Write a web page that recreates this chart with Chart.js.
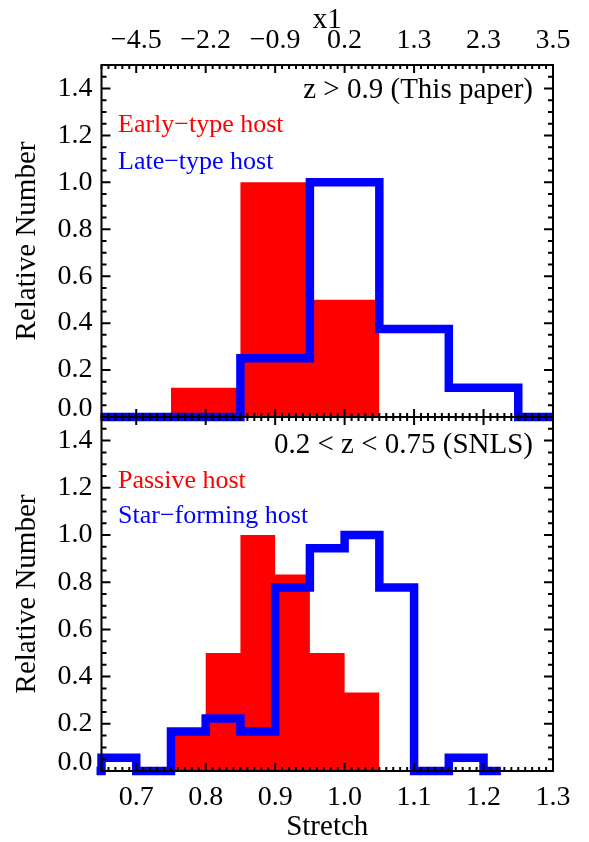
<!DOCTYPE html>
<html>
<head>
<meta charset="utf-8">
<script src="https://cdn.jsdelivr.net/npm/chart.js@4.4.1/dist/chart.umd.min.js"></script>
<style>
  html, body { margin: 0; padding: 0; background: #fff; overflow: hidden; }
  #wrap { position: relative; width: 589px; height: 842px; }
  canvas { position: absolute; left: 0; }
  .note { position: absolute; font-family: 'Liberation Serif', serif; font-size: 26px; line-height: 26px; white-space: nowrap; }
  .note.big { font-size: 29px; line-height: 29px; }
</style>
</head>
<body>
<div id="wrap">
  <canvas id="topChart" width="589" height="443" style="top:0"></canvas>
  <canvas id="bottomChart" width="589" height="451" style="top:391px"></canvas>
  <div class="note big" style="right:56px;top:74px;color:#000">z &gt; 0.9 (This paper)</div>
  <div class="note" style="left:118px;top:111px;color:#ff0000">Early&minus;type host</div>
  <div class="note" style="left:118px;top:148px;color:#0000ff">Late&minus;type host</div>
  <div class="note big" style="right:56px;top:429px;color:#000">0.2 &lt; z &lt; 0.75 (SNLS)</div>
  <div class="note" style="left:118px;top:467px;color:#ff0000">Passive host</div>
  <div class="note" style="left:118px;top:502px;color:#0000ff">Star&minus;forming host</div>
</div>
<script>
// axis labels
const stretchTicks = [0.7, 0.8, 0.9, 1.0, 1.1, 1.2, 1.3];
const x1Labels = ['\u22124.5', '\u22122.2', '\u22120.9', '0.2', '1.3', '2.3', '3.5'];
const yTicks = [0.0, 0.2, 0.4, 0.6, 0.8, 1.0, 1.2, 1.4];

// z > 0.9 (bins of 0.1)
const earlyEdges = [0.75, 0.85, 0.95, 1.05];
const earlyValues = [0.125, 1.0, 0.5];
const lateEdges = [0.65, 0.75, 0.85, 0.95, 1.05, 1.15, 1.25, 1.30];
const lateValues = [0, 0, 0.25, 1.0, 0.375, 0.125, 0];

// SNLS (bins of 0.05)
const passiveEdges = [0.75, 0.80, 0.85, 0.90, 0.95, 1.00, 1.05];
const passiveValues = [0.167, 0.5, 1.0, 0.833, 0.5, 0.333];
const starEdges = [0.625, 0.65, 0.70, 0.75, 0.80, 0.85, 0.90, 0.95, 1.00, 1.05, 1.10, 1.15, 1.20, 1.225];
const starValues = [0, 0.056, 0, 0.167, 0.222, 0.167, 0.778, 0.944, 1.0, 0.778, 0, 0.056, 0];

const RED = '#ff0000';
const BLUE = '#0000ff';
const tickFont = { family: "'Liberation Serif', serif", size: 28 };
const titleFont = { family: "'Liberation Serif', serif", size: 29 };

// left edge + value pairs, last edge closes the last bin
function steps(edges, values) {
  return edges.map((x, i) => ({ x: x, y: values[Math.min(i, values.length - 1)] }));
}

function filledHist(edges, values) {
  return {
    data: steps(edges, values),
    stepped: 'before',
    fill: 'origin',
    backgroundColor: RED,
    borderColor: 'rgba(0,0,0,0)',
    borderWidth: 0,
    pointRadius: 0,
    order: 1
  };
}

function outlineHist(edges, values) {
  return {
    data: steps(edges, values),
    stepped: 'before',
    fill: false,
    borderColor: BLUE,
    borderWidth: 8.5,
    borderJoinStyle: 'miter',
    borderCapStyle: 'butt',
    pointRadius: 0,
    clip: { left: 5, top: 5, right: 0, bottom: 6 },
    order: 0
  };
}

// inward ticks on all four sides + box
const frameTicks = {
  id: 'frameTicks',
  afterDatasetsDraw(chart) {
    const { ctx, chartArea: a, scales } = chart;
    const xs = scales.x, ys = scales.y;
    ctx.save();
    ctx.strokeStyle = '#000';
    ctx.lineWidth = 2;
    ctx.beginPath();
    for (let i = 65; i <= 130; i++) {
      const px = xs.getPixelForValue(i / 100);
      const len = i % 10 === 0 ? 8 : 4;
      ctx.moveTo(px, a.bottom); ctx.lineTo(px, a.bottom - len);
      ctx.moveTo(px, a.top); ctx.lineTo(px, a.top + len);
    }
    for (let j = 0; j <= 30; j++) {
      const py = ys.getPixelForValue(j / 20);
      const len = j % 4 === 0 ? 9 : 5;
      ctx.moveTo(a.left, py); ctx.lineTo(a.left + len, py);
      ctx.moveTo(a.right, py); ctx.lineTo(a.right - len, py);
    }
    ctx.stroke();
    ctx.strokeRect(a.left, a.top, a.right - a.left, a.bottom - a.top);
    ctx.restore();
  }
};

// IDL lifts the 0.0 label a little off the x axis
const liftZero = {
  id: 'liftZero',
  beforeDraw(chart) {
    const items = chart.scales.y.getLabelItems();
    items.forEach(it => {
      if (it.label === '0.0' && !it._lifted) {
        it.options.translation[1] -= 8;
        it._lifted = true;
      }
    });
  }
};

function yScale() {
  return {
    min: 0, max: 1.5,
    afterBuildTicks: s => { s.ticks = yTicks.map(v => ({ value: v })); },
    afterFit: s => { s.width = 101.5; },
    grid: { display: false, drawTicks: false },
    border: { display: false },
    ticks: { font: tickFont, color: '#000', padding: 9, callback: v => v.toFixed(1) },
    title: { display: true, text: 'Relative Number', font: titleFont, color: '#000', padding: { top: 10, bottom: 0 } }
  };
}

const common = {
  responsive: false,
  animation: false,
  devicePixelRatio: 1,
  plugins: { legend: { display: false }, tooltip: { enabled: false } },
  elements: { line: { tension: 0 } }
};

new Chart(document.getElementById('topChart'), {
  type: 'line',
  data: {
    datasets: [outlineHist(lateEdges, lateValues), filledHist(earlyEdges, earlyValues)]
  },
  options: Object.assign({}, common, {
    layout: { padding: { left: 0, right: 36, top: 0, bottom: 26 } },
    scales: {
      x: { type: 'linear', min: 0.65, max: 1.3, display: false },
      xTop: {
        type: 'linear', axis: 'x', position: 'top', min: 0.65, max: 1.3,
        afterBuildTicks: s => { s.ticks = stretchTicks.map(v => ({ value: v })); },
        afterFit: s => { s.height = 65; },
        grid: { display: false, drawTicks: false },
        border: { display: false },
        ticks: { font: tickFont, color: '#000', padding: 8, maxRotation: 0, autoSkip: false,
                 callback: (v, i) => x1Labels[i] },
        title: { display: true, text: 'x1', color: '#000',
                 font: Object.assign({}, titleFont, { lineHeight: 1 }), padding: { top: 6, bottom: 0 } }
      },
      y: yScale()
    }
  }),
  plugins: [frameTicks, liftZero]
});

new Chart(document.getElementById('bottomChart'), {
  type: 'line',
  data: {
    datasets: [outlineHist(starEdges, starValues), filledHist(passiveEdges, passiveValues)]
  },
  options: Object.assign({}, common, {
    layout: { padding: { left: 0, right: 36, top: 26, bottom: 0 } },
    scales: {
      x: {
        type: 'linear', min: 0.65, max: 1.3, position: 'bottom',
        afterBuildTicks: s => { s.ticks = stretchTicks.map(v => ({ value: v })); },
        afterFit: s => { s.height = 71; },
        grid: { display: false, drawTicks: false },
        border: { display: false },
        ticks: { font: tickFont, color: '#000', padding: 10, maxRotation: 0, autoSkip: false,
                 callback: v => v.toFixed(1) },
        title: { display: true, text: 'Stretch', color: '#000',
                 font: Object.assign({}, titleFont, { lineHeight: 1 }), padding: { top: 0, bottom: 0 } }
      },
      y: yScale()
    }
  }),
  plugins: [frameTicks, liftZero]
});
</script>
</body>
</html>
